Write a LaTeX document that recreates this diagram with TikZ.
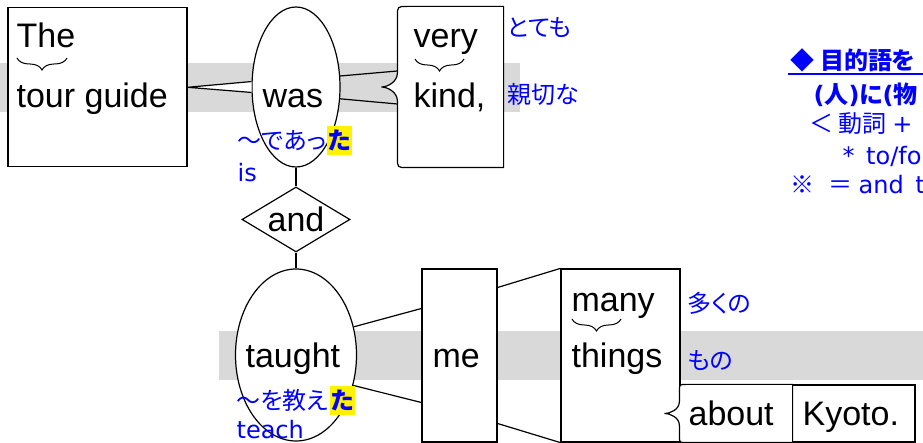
\documentclass[tikz,border=0pt]{standalone}
\usepackage{fontspec}
\setmainfont{Liberation Sans}
\newfontfamily\jpfont{Noto Sans CJK JP}[RawFeature=+palt]
\newfontfamily\dvfont{DejaVu Sans}
\usetikzlibrary{shapes.geometric,decorations.pathreplacing,calc}

\begin{document}
\begin{tikzpicture}[x=0.5pt,y=-0.5pt,line width=0.6pt,
  word/.style={anchor=base west,inner sep=0pt,font=\fontsize{17}{20}\selectfont},
  note/.style={anchor=base west,inner sep=0pt,text=blue,font=\jpfont\fontsize{12}{14}\selectfont},
  latin note/.style={note,font=\dvfont\fontsize{12}{14}\selectfont},
  head/.style={note,font=\jpfont\bfseries\fontsize{12}{14}\selectfont},
  hl/.style={anchor=base west,inner xsep=0.5pt,inner ysep=2pt,fill=yellow,text=blue,font=\jpfont\bfseries\fontsize{12}{14}\selectfont},
  box node/.style={rectangle,draw,fill=white,inner sep=0pt},
  verb node/.style={ellipse,draw,fill=white,inner sep=0pt},
  conj node/.style={diamond,draw,fill=white,inner sep=0pt,aspect=1.66,font=\fontsize{17}{20}\selectfont},
  band/.style={fill=black!15},
  mod brace/.style={decorate,decoration={brace,mirror,amplitude=6pt},line width=0.5pt}]

  \useasboundingbox (0,0) rectangle (923,443);
  \clip (0,0) rectangle (923,443);

  % gray bands
  \fill[band] (0,63) rectangle (520,112);
  \fill[band] (219,331) rectangle (923,380);

  \node[box node,minimum width=89.5pt,minimum height=79.5pt] (tour) at (97.5,87.3) {};
  \node[verb node,minimum width=44pt,minimum height=80pt] (was) at (296,87) {};
  \node[inner sep=0pt,minimum width=52.5pt,minimum height=80pt] (kind) at (450.5,87) {};
  \node[conj node,minimum width=54pt,minimum height=32.5pt] (and) at (296,219.5) {and};
  \node[verb node,minimum width=60.5pt,minimum height=86pt] (taught) at (296,355) {};
  \node[box node,minimum width=37.5pt,minimum height=86.5pt] (me) at (459.5,355.5) {};
  \node[box node,minimum width=59.5pt,minimum height=86.5pt] (things) at (620.5,355.5) {};
  \node[inner sep=0pt,minimum width=56pt,minimum height=28.5pt] (about) at (736,413.5) {};
  \node[box node,minimum width=61.5pt,minimum height=28.5pt] (kyoto) at (853.5,413.5) {};

  % brace-edged boxes
  \filldraw[fill=white] (kind.north east) -- ($(kind.north west)+(10,0)$)
    .. controls (kind.north west) .. ($(kind.north west)+(0,10)$)
    -- ($(kind.west)+(0,-14)$) .. controls ($(kind.west)+(0,-5)$) and ($(kind.west)+(-10,0)$) .. ($(kind.west)+(-16,0)$)
    .. controls ($(kind.west)+(-10,0)$) and ($(kind.west)+(0,5)$) .. ($(kind.west)+(0,14)$)
    -- ($(kind.south west)+(0,-10)$) .. controls (kind.south west) .. ($(kind.south west)+(10,0)$)
    -- (kind.south east) -- cycle;
  \filldraw[fill=white] (about.north east) -- ($(about.north west)+(7,0)$)
    .. controls (about.north west) .. ($(about.north west)+(0,7)$)
    -- ($(about.west)+(0,-12)$) .. controls ($(about.west)+(0,-4)$) and ($(about.west)+(-9,0)$) .. ($(about.west)+(-15,0)$)
    .. controls ($(about.west)+(-9,0)$) and ($(about.west)+(0,4)$) .. ($(about.west)+(0,12)$)
    -- ($(about.south west)+(0,-7)$) .. controls (about.south west) .. ($(about.south west)+(7,0)$)
    -- (about.south east) -- cycle;

  % connectors
  \filldraw[fill=white] (was.173) -- (tour.east) -- (was.187);
  \path
  (was.14) edge ($(kind.west)+(0,-16)$)
  (was.-15) edge ($(kind.west)+(0,17)$)
  (was.south) edge (and.north)
  (and.south) edge (taught.north)
  (taught.26) edge ($(me.west)+(0,-47)$)
  (taught.-28) edge ($(me.west)+(0,47)$)
  ($(me.east)+(0,-68)$) edge (things.north west)
  ($(me.east)+(0,68)$) edge (things.south west);

  % words
  \node[word] (the) at (16,48) {The};
  \draw[mod brace] (17,58) -- (67,58);
  \node[word] (guide) at (16,108) {tour guide};
  \node[word] (was w) at (262,108) {was};
  \node[word] (very) at (413,48) {very};
  \draw[mod brace] (415,59) -- (464,59);
  \node[word] (kind w) at (413,108) {kind,};
  \node[word] (taught w) at (245,368) {taught};
  \node[word] (me w) at (432,368) {me};
  \node[word] (many) at (571,312) {many};
  \draw[mod brace] (572,319) -- (621,319);
  \node[word] (things w) at (571,368) {things};
  \node[word] (about w) at (688,426) {about};
  \node[word] (kyoto w) at (802,426) {Kyoto.};

  % glosses
  \node[note] (totemo) at (507,37) {とても};
  \node[note] (shinsetsu) at (507,104) {親切な};
  \node[note] (deatta) at (237,150) {〜であっ};
  \node[hl] (ta a) at (deatta.base east) {た};
  \node[latin note] (is) at (237,182) {is};
  \node[note] (oshieta) at (236,410) {〜を教え};
  \node[hl] (ta b) at (oshieta.base east) {た};
  \node[latin note] (teach) at (236,439) {teach};
  \node[note] (ooku) at (687,313) {多くの};
  \node[note] (mono) at (687,370) {もの};

  % side note
  \node[head] (rule a) at (790,70) {◆ 目的語を};
  \draw[blue,line width=0.8pt] (788,74) -- (923,74);
  \node[head] (rule b) at (813,104) {{\dvfont\bfseries(}人{\dvfont\bfseries)}に{\dvfont\bfseries(}物};
  \node[note] (rule c) at (809,133) {＜ 動詞 {\dvfont +}};
  \node[latin note] (rule d) at (842,165) {*\hspace{2pt} to/fo};
  \node[note] (rule e) at (790,194) {※\hspace{7pt}＝\hspace{3pt}{\dvfont and\hspace{2pt} t}};
\end{tikzpicture}
\end{document}
